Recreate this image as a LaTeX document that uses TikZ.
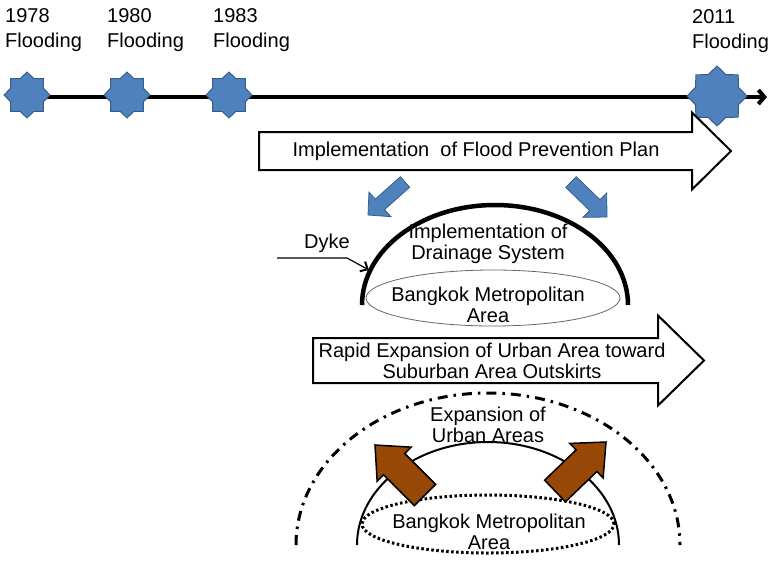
\documentclass[tikz,border=0pt]{standalone}
\usepackage{fontspec}
\setmainfont{Liberation Sans}
\usetikzlibrary{shapes.geometric,arrows.meta,calc}

\definecolor{floodblue}{HTML}{4F81BD}
\definecolor{floodedge}{HTML}{385D8A}
\definecolor{urbanbrown}{HTML}{974706}

% block arrow: style, tail, tip, half body width, half head width, head length
\newcommand\blockarrow[6]{%
  \coordinate (ba-base) at ($(#3)!#6!(#2)$);
  \draw[#1] ($(#2)!#4!90:(#3)$) -- ($(ba-base)!#4!-90:(#2)$) -- ($(ba-base)!#5!-90:(#2)$) -- (#3)
    -- ($(ba-base)!#5!90:(#2)$) -- ($(ba-base)!#4!90:(#2)$) -- ($(#2)!#4!-90:(#3)$) -- cycle;
}

\tikzset{
  flood star/.style={star, star points=8, star point ratio=1.3, fill=floodblue, draw=floodedge,
    line width=1pt, inner sep=0pt, minimum size=#1},
  year/.style={font=\fontsize{20}{25}\selectfont, align=left, anchor=north west, inner sep=0pt},
  txt/.style={font=\fontsize{20}{21}\selectfont, align=center, inner sep=0pt},
  big arrow/.style={draw=black, line width=2pt, fill=white, line join=miter},
  blue arrow/.style={draw=floodedge, line width=0.8pt, fill=floodblue},
  brown arrow/.style={draw=black, line width=1.5pt, fill=urbanbrown},
}

\begin{document}
\begin{tikzpicture}[x=1pt, y=-1pt]
  \useasboundingbox (0,0) rectangle (768,563);

  % timeline
  \coordinate (tl-start) at (20,97);
  \coordinate (tl-end) at (767,97);
  \draw[line width=4pt, -{Straight Barb[length=6pt,width=14pt]}] (tl-start) -- (tl-end);

  % flood events
  \node[flood star=46pt] (s1978) at (27,95) {};
  \node[flood star=46pt] (s1980) at (127,95) {};
  \node[flood star=46pt] (s1983) at (229,95) {};
  \node[flood star=60pt] (s2011) at (717,96) {};
  \node[year] (y1978) at (5,8) {1978\\Flooding};
  \node[year] (y1980) at (107,8) {1980\\Flooding};
  \node[year] (y1983) at (213,8) {1983\\Flooding};
  \node[year] (y2011) at (692,9) {2011\\Flooding};

  % flood prevention plan
  \coordinate (plan-tail) at (259,151);
  \coordinate (plan-tip) at (731,151);
  \blockarrow{big arrow}{plan-tail}{plan-tip}{19pt}{38.5pt}{39pt}
  \node[txt] (plan) at (476,151) {Implementation\ \ of Flood Prevention\ Plan};

  % plan reaching the city
  \coordinate (bl-tail) at (405,182);
  \coordinate (bl-tip) at (368,215);
  \blockarrow{blue arrow}{bl-tail}{bl-tip}{7pt}{16.5pt}{16pt}
  \coordinate (br-tail) at (571,182);
  \coordinate (br-tip) at (607,217);
  \blockarrow{blue arrow}{br-tail}{br-tip}{7.5pt}{17pt}{17pt}

  % dyke round the city
  \coordinate (dyke-l) at (362,305);
  \draw[line width=4.5pt] (dyke-l) arc[start angle=180, end angle=0, x radius=133pt, y radius=100pt];
  \node[txt] (dyke) at (327,243) {Dyke};
  \coordinate (dyke-from) at (277,258);
  \coordinate (dyke-bend) at (347,258);
  \coordinate (dyke-hit) at (369,270);
  \draw[line width=1.2pt, -{Straight Barb[length=6pt,width=11pt,line width=2pt]}] (dyke-from) -- (dyke-bend) -- (dyke-hit);
  \node[txt] (drain) at (488,244) {Implementation of\\Drainage System};
  \node[ellipse, draw=black!60, line width=0.8pt, minimum width=254pt, minimum height=56pt] (bma1) at (493,298) {};
  \node[txt] (bma1-txt) at (488,305) {Bangkok Metropolitan\\Area};

  % urban expansion
  \coordinate (urb-tail) at (313,360.5);
  \coordinate (urb-tip) at (704,360.5);
  \blockarrow{big arrow}{urb-tail}{urb-tip}{22.5pt}{45pt}{46pt}
  \node[txt] (urb) at (492,361) {Rapid\ Expansion\ of Urban\ Area\ toward\\Suburban\ Area\ Outskirts};

  \coordinate (out-l) at (296,545);
  \draw[line width=3pt, dash pattern=on 10pt off 6pt on 2.5pt off 6pt] (out-l) arc[start angle=180, end angle=0, x radius=192pt, y radius=152pt];
  \coordinate (old-l) at (357,545);
  \draw[line width=2pt] (old-l) arc[start angle=180, end angle=0, x radius=131pt, y radius=103pt];
  \node[txt] (exp) at (488,425) {Expansion\ of\\Urban Areas};
  \node[ellipse, draw, line width=3pt, dash pattern=on 2.5pt off 2.5pt, minimum width=252pt, minimum height=58pt] (bma2) at (488,524) {};
  \node[txt] (bma2-txt) at (489,532) {Bangkok Metropolitan\\Area};

  \coordinate (ul-tail) at (425,495);
  \coordinate (ul-tip) at (375,445);
  \blockarrow{brown arrow}{ul-tail}{ul-tip}{15pt}{24pt}{27pt}
  \coordinate (ur-tail) at (555,491);
  \coordinate (ur-tip) at (606,442);
  \blockarrow{brown arrow}{ur-tail}{ur-tip}{15pt}{24pt}{27pt}
\end{tikzpicture}
\end{document}
